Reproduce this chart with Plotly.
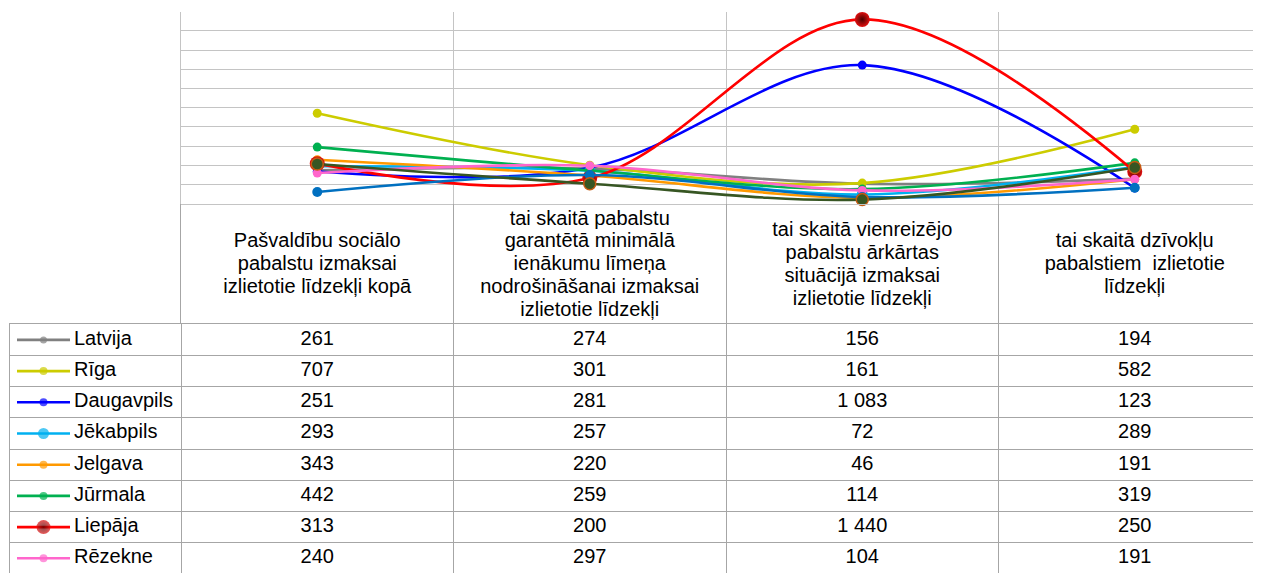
import plotly.graph_objects as go

# ---------------- data ----------------
categories = [
    "Pašvaldību sociālo\npabalstu izmaksai\nizlietotie līdzekļi kopā",
    "tai skaitā pabalstu\ngarantētā minimālā\nienākumu līmeņa\nnodrošināšanai izmaksai\nizlietotie līdzekļi",
    "tai skaitā vienreizējo\npabalstu ārkārtas\nsituācijā izmaksai\nizlietotie līdzekļi",
    "tai skaitā dzīvokļu\npabalstiem  izlietotie\nlīdzekļi",
]
series_names = ["Latvija", "Rīga", "Daugavpils", "Jēkabpils", "Jelgava",
                "Jūrmala", "Liepāja", "Rēzekne", "Valmiera", "Ventspils"]
latvija = [261, 274, 156, 194]
riga = [707, 301, 161, 582]
daugavpils = [251, 281, 1083, 123]
jekabpils = [293, 257, 72, 289]
jelgava = [343, 220, 46, 191]
jurmala = [442, 259, 114, 319]
liepaja = [313, 200, 1440, 250]
rezekne = [240, 297, 104, 191]
valmiera = [91, 224, 52, 125]      # rows below the visible crop (estimated from lines)
ventspils = [310, 156, 32, 283]
series_values = [latvija, riga, daugavpils, jekabpils, jelgava,
                 jurmala, liepaja, rezekne, valmiera, ventspils]
y_max = 1500
y_step = 150

# ---------------- styles ----------------
colors = ["#808080", "#CCCC00", "#0000FF", "#00B0F0", "#FF9900",
          "#00B050", "#FF0000", "#FF66CC", "#0070C0", "#375623"]
msizes = [8, 9, 9, 11, 9, 9, 15, 9, 10, 12]
FONT = "Liberation Sans, Arial, sans-serif"
FS = 20
GRID = "#C4C4C4"
TAB = "#A6A6A6"

# the page adds an 8px body margin, so the figure is 8px smaller and offset
OFF = 8
W, H = 1261 - OFF, 573 - OFF
plot_left, plot_top, plot_bottom = 181 - OFF, 11.7 - OFF, 203.7 - OFF
leg_left = 10 - OFF
cat_w = 272.5
header_bottom = 324.3 - OFF
row_h = 31.2


def marker_for(i, size):
    m = dict(color=colors[i], size=size, line=dict(width=0))
    if series_names[i] == "Liepāja":
        m = dict(color="#E01010", size=size, gradient=dict(type="radial", color="#4A0000"),
                 line=dict(width=0))
    if series_names[i] == "Ventspils":
        m = dict(color=colors[i], size=size, line=dict(width=1.5, color="#C55A11"))
    return m


fig = go.Figure()

x_right = -0.5 + (W - plot_left) / cat_w
x_left_body = -0.5 - (plot_left - leg_left) / cat_w

# ---------------- main chart ----------------
for i, name in enumerate(series_names):
    fig.add_trace(go.Scatter(
        x=categories, y=series_values[i], name=name, mode="lines+markers",
        line=dict(color=colors[i], width=2.6, shape="spline", smoothing=1.0),
        marker=marker_for(i, msizes[i]), showlegend=False, xaxis="x", yaxis="y",
        cliponaxis=False,
    ))

# ---------------- header (category names) ----------------
line_sp = 23
hdr_h = header_bottom - plot_bottom
hx, hy, ht = [], [], []
for j, lab in enumerate(categories):
    lines = lab.split("\n")
    n = len(lines)
    for k, ln in enumerate(lines):
        hx.append(j)
        hy.append(hdr_h / 2 + 1.5 + (k - (n - 1) / 2) * line_sp)
        ht.append(ln)
fig.add_trace(go.Scatter(x=hx, y=hy, text=ht, mode="text", textposition="middle center",
                         textfont=dict(family=FONT, size=FS, color="#000000"),
                         showlegend=False, xaxis="x3", yaxis="y3", hoverinfo="skip"))

# ---------------- table body (only rows inside the visible area) ----------------
vis_rows = (H - header_bottom) / row_h
shown = [i for i in range(len(series_names)) if i + 0.45 < vis_rows - 0.5]

bx, by, bt = [], [], []
for i in shown:
    for j, v in enumerate(series_values[i]):
        bx.append(j)
        by.append(i)
        bt.append(f"{v:,}".replace(",", " "))
fig.add_trace(go.Scatter(x=bx, y=by, text=bt, mode="text", textposition="middle center",
                         textfont=dict(family=FONT, size=FS, color="#000000"),
                         showlegend=False, xaxis="x2", yaxis="y2", hoverinfo="skip"))

# legend keys inside table
k0 = -0.5 - (plot_left - (17 - OFF)) / cat_w
k1 = -0.5 - (plot_left - (70 - OFF)) / cat_w
km = (k0 + k1) / 2
kt = -0.5 - (plot_left - (74 - OFF)) / cat_w
leg_sizes = [7, 8, 8, 11, 8, 8, 14, 8, 9, 11]
for i in shown:
    fig.add_trace(go.Scatter(
        x=[k0, km, k1], y=[i, i, i], mode="lines+markers",
        line=dict(color=colors[i], width=2.6),
        marker=marker_for(i, leg_sizes[i]) | dict(size=[0, leg_sizes[i], 0]),
        showlegend=False, xaxis="x2", yaxis="y2", hoverinfo="skip"))
fig.add_trace(go.Scatter(x=[kt] * len(shown), y=shown,
                         text=[series_names[i] for i in shown], mode="text",
                         textposition="middle right",
                         textfont=dict(family=FONT, size=FS, color="#000000"),
                         showlegend=False, xaxis="x2", yaxis="y2", hoverinfo="skip"))

n_rows = len(series_names)

fig.update_layout(
    width=W, height=H, margin=dict(l=0, r=0, t=0, b=0),
    paper_bgcolor="white", plot_bgcolor="white",
    font=dict(family=FONT, size=FS, color="#000000"),
    xaxis=dict(domain=[plot_left / W, 1], range=[-0.5, x_right], type="category",
               tickson="boundaries", showgrid=True, gridcolor=GRID, gridwidth=1,
               showticklabels=False, ticks="", showline=True, linecolor=GRID,
               zeroline=False, fixedrange=True),
    yaxis=dict(domain=[1 - plot_bottom / H, 1 - plot_top / H], range=[0, y_max],
               dtick=y_step, showgrid=True, gridcolor=GRID, gridwidth=1,
               showticklabels=False, ticks="", zeroline=False, showline=True,
               linecolor=GRID, fixedrange=True),
    xaxis3=dict(domain=[plot_left / W, 1], range=[-0.5, x_right],
                tickvals=[j - 0.5 for j in range(len(categories) + 1)],
                showgrid=True, gridcolor=TAB, gridwidth=1, showticklabels=False,
                ticks="", zeroline=False, fixedrange=True, anchor="y3"),
    yaxis3=dict(domain=[1 - header_bottom / H, 1 - plot_bottom / H], range=[hdr_h, 0],
                showgrid=False, showticklabels=False, ticks="", zeroline=False,
                showline=True, linecolor=TAB, fixedrange=True, anchor="x3"),
    xaxis2=dict(domain=[leg_left / W, 1], range=[x_left_body, x_right],
                tickvals=[j - 0.5 for j in range(len(categories) + 1)],
                showgrid=True, gridcolor=TAB, gridwidth=1, showticklabels=False,
                ticks="", zeroline=False, showline=True, linecolor=TAB, side="top",
                fixedrange=True, anchor="y2"),
    yaxis2=dict(domain=[0, 1 - header_bottom / H], range=[-0.5 + vis_rows, -0.5],
                tickvals=[i - 0.5 for i in range(n_rows + 1)],
                showgrid=True, gridcolor=TAB, gridwidth=1, showticklabels=False,
                ticks="", zeroline=False, showline=True, linecolor=TAB,
                fixedrange=True, anchor="x2"),
)

fig.write_html("out.html")
